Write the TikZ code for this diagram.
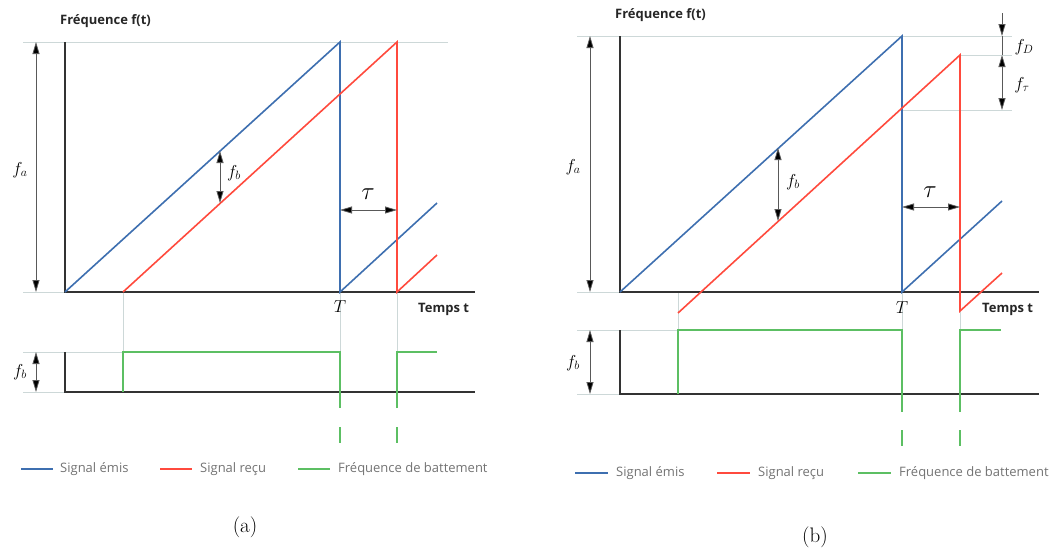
\documentclass[tikz,border=0pt]{standalone}
\usepackage{fontspec}
\newfontfamily\labelfont{Open Sans}
\usetikzlibrary{arrows.meta,positioning}
\definecolor{emis}{HTML}{3E6FB0}
\definecolor{recu}{HTML}{FF4A3D}
\definecolor{beat}{HTML}{5CBF63}
\definecolor{guidegray}{HTML}{CDD8D8}
\definecolor{axisgray}{HTML}{333333}
\begin{document}
\begin{tikzpicture}[x=1pt, y=-1pt,
  axis/.style={draw=axisgray, line width=2pt},
  guide/.style={draw=guidegray, line width=1pt},
  emitted/.style={draw=emis, line width=1.6pt},
  received/.style={draw=recu, line width=1.6pt},
  beatline/.style={draw=beat, line width=1.6pt},
  dim/.style={{Triangle[length=12pt,width=7pt,fill=black]}-{Triangle[length=12pt,width=7pt,fill=black]}, draw=black!65, line width=0.8pt},
  qty/.style={font=\fontsize{17}{17}\selectfont, inner sep=1pt},
  title/.style={font=\labelfont\bfseries\fontsize{13}{15}\selectfont, text=black!85, anchor=west, inner sep=0pt},
  legend/.style={font=\labelfont\fontsize{13}{15}\selectfont, text=black!55, anchor=west, inner sep=0pt},
  caption/.style={font=\fontsize{21}{21}\selectfont}
]
\useasboundingbox (0,0) rectangle (1059,550);

% (a) upper plot
\draw[guide] (23,42) -- (448,42);
\draw[guide] (23,292) -- (65,292);
\draw[guide] (123,292) -- (123,352);
\draw[guide] (340,292) -- (340,352);
\draw[guide] (397,292) -- (397,352);
\draw[guide] (23,352) -- (123,352);
\draw[guide] (23,392) -- (65,392);
\draw[axis] (65,42) -- (65,292) -- (475,292);
\draw[axis] (65,352) -- (65,392) -- (475,392);

\coordinate (a-e0) at (65,292);
\coordinate (a-etop) at (340,42);
\coordinate (a-r0) at (123,292);
\coordinate (a-rtop) at (397,42);
\draw[emitted] (a-e0) -- (a-etop) -- (340,292) -- (437,203);
\draw[received] (a-r0) -- (a-rtop) -- (397,292) -- (437,255);

\coordinate (a-fb1) at (220,151);
\coordinate (a-fb2) at (220,203);
\draw[dim] (a-fb1) -- (a-fb2);
\draw[dim] (36,42) -- (36,292);
\draw[dim] (340,210) -- (397,210);

\node[qty] (a-fa) at (20,170) {$f_a$};
\node[qty] (a-fb) at (234,173) {$f_b$};
\node[qty, font=\fontsize{24}{24}\selectfont] (a-tau) at (368,194) {$\tau$};
\node[qty] (a-T) at (340,307) {$T$};
\node[title] (a-freq) at (60,21) {Fréquence f(t)};
\node[title] (a-time) at (418,309) {Temps t};

% (a) beat frequency
\draw[beatline] (123,392) -- (123,352) -- (340,352) -- (340,408);
\draw[beatline] (397,408) -- (397,352) -- (437,352);
\draw[beatline] (340,427) -- (340,443);
\draw[beatline] (397,427) -- (397,443);
\draw[dim] (36,352) -- (36,392);
\node[qty] (a-fblow) at (20,372) {$f_b$};

% (a) legend
\draw[emitted] (21,469) -- (53,469);
\node[legend] (a-l1) at (60,469) {Signal émis};
\draw[received] (160,469) -- (192,469);
\node[legend] (a-l2) at (200,469) {Signal reçu};
\draw[beatline] (298,469) -- (330,469);
\node[legend] (a-l3) at (338,469) {Fréquence de battement};
\node[caption] (a-cap) at (245,527) {(a)};

% (b) upper plot
\draw[guide] (577,36) -- (1012,36);
\draw[guide] (960,55) -- (1012,55);
\draw[guide] (902,110) -- (1012,110);
\draw[guide] (577,292) -- (620,292);
\draw[guide] (678,292) -- (678,330);
\draw[guide] (902,292) -- (902,330);
\draw[guide] (960,311) -- (960,330);
\draw[guide] (577,330) -- (678,330);
\draw[guide] (577,394) -- (620,394);
\draw[axis] (620,36) -- (620,292) -- (1039,292);
\draw[axis] (620,330) -- (620,394) -- (1039,394);

\coordinate (b-e0) at (620,292);
\coordinate (b-etop) at (902,36);
\coordinate (b-r0) at (678,313);
\coordinate (b-rtop) at (960,55);
\draw[emitted] (b-e0) -- (b-etop) -- (902,292) -- (1002,201);
\draw[received] (b-r0) -- (b-rtop) -- (960,311) -- (1002,273);

\draw[dim] (778,148) -- (778,221);
\draw[dim] (590,36) -- (590,292);
\draw[dim] (902,207) -- (960,207);
\draw[dim, {Triangle[length=12pt,width=7pt,fill=black]}-] (1002,36) -- (1002,13);
\draw[draw=black!65, line width=0.8pt] (1002,36) -- (1002,55);
\draw[dim] (1002,55) -- (1002,110);

\node[qty] (b-fa) at (573,167) {$f_a$};
\node[qty] (b-fb) at (793,182) {$f_b$};
\node[qty, font=\fontsize{24}{24}\selectfont] (b-tau) at (930,192) {$\tau$};
\node[qty] (b-fD) at (1024,47) {$f_D$};
\node[qty] (b-ftau) at (1022,85) {$f_\tau$};
\node[qty] (b-T) at (902,308) {$T$};
\node[title] (b-freq) at (615,15) {Fréquence f(t)};
\node[title] (b-time) at (982,309) {Temps t};

% (b) beat frequency
\draw[beatline] (678,394) -- (678,330) -- (902,330) -- (902,412);
\draw[beatline] (960,412) -- (960,330) -- (1001,330);
\draw[beatline] (902,430) -- (902,446);
\draw[beatline] (960,430) -- (960,446);
\draw[dim] (590,330) -- (590,394);
\node[qty] (b-fblow) at (573,363) {$f_b$};

% (b) legend
\draw[emitted] (575,473) -- (608,473);
\node[legend] (b-l1) at (616,473) {Signal émis};
\draw[received] (717,473) -- (750,473);
\node[legend] (b-l2) at (758,473) {Signal reçu};
\draw[beatline] (858,473) -- (891,473);
\node[legend] (b-l3) at (899,473) {Fréquence de battement};
\node[caption] (b-cap) at (815,537) {(b)};
\end{tikzpicture}
\end{document}
